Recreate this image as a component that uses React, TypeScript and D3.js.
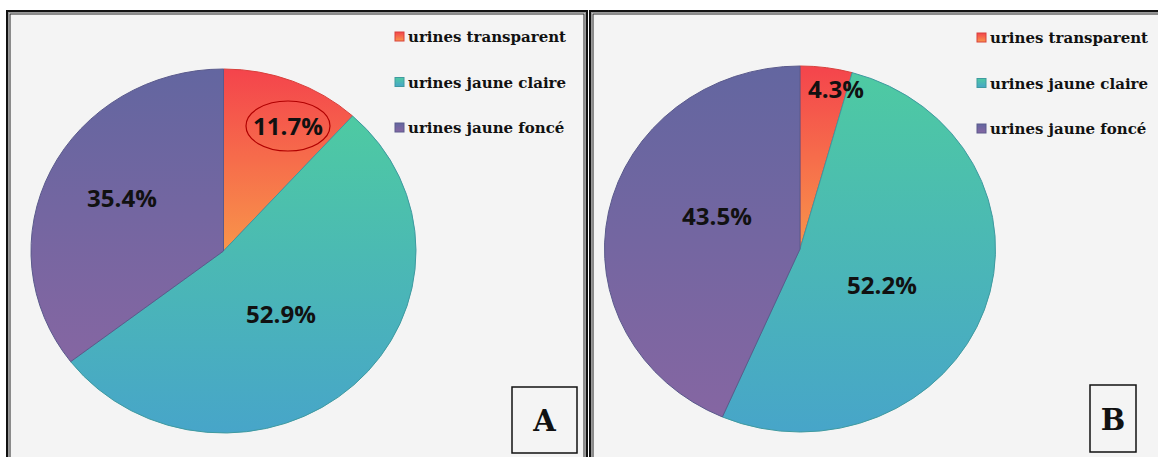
import React from "react";
import * as d3 from "d3";

const categories = ["urines transparent", "urines jaune claire", "urines jaune foncé"];
const valuesA = [11.7, 52.9, 35.4];
const valuesB = [4.3, 52.2, 43.5];
const panelLetters = ["A", "B"];

// gradient stops (top, bottom) per category
const sliceColors = [
  ["#f4444c", "#f8954a"],
  ["#4ecaa2", "#47a5c9"],
  ["#6366a0", "#8566a2"],
];
const sliceStrokes = ["#d8403c", "#3f9aa0", "#5a5a8c"];

type PanelCfg = {
  values: number[];
  letter: string;
  cx: number;
  cy: number;
  rx: number;
  ry: number;
  labels: [number, number][];
  legendX: number;
  legendY: number;
  box: [number, number, number, number];
  circled?: number;
};

const panels: PanelCfg[] = [
  {
    values: valuesA,
    letter: panelLetters[0],
    cx: 223.5,
    cy: 251,
    rx: 192.5,
    ry: 182,
    labels: [[288, 126], [281, 314], [122, 198]],
    legendX: 395,
    legendY: 42,
    box: [512, 387, 65, 66],
    circled: 0,
  },
  {
    values: valuesB,
    letter: panelLetters[1],
    cx: 800,
    cy: 249,
    rx: 195.5,
    ry: 183,
    labels: [[836, 89], [882, 285], [717, 216]],
    legendX: 977,
    legendY: 43,
    box: [1090, 385, 46, 67],
  },
];

function Panel({ p, idx }: { p: PanelCfg; idx: number }) {
  const pie = d3.pie<number>().sort(null).value((d) => d)(p.values);
  const arc = d3.arc<d3.PieArcDatum<number>>().innerRadius(0).outerRadius(p.ry);
  const sx = p.rx / p.ry;
  return (
    <g>
      <defs>
        {sliceColors.map((c, i) => (
          <linearGradient key={i} id={`g${idx}-${i}`} x1="0" y1="0" x2="0" y2="1">
            <stop offset="0" stopColor={c[0]} />
            <stop offset="1" stopColor={c[1]} />
          </linearGradient>
        ))}
      </defs>
      <g transform={`translate(${p.cx},${p.cy}) scale(${sx},1)`}>
        {pie.map((d, i) => (
          <path
            key={i}
            d={arc(d) as string}
            fill={`url(#g${idx}-${i})`}
            stroke={sliceStrokes[i]}
            strokeWidth={1}
            vectorEffect="non-scaling-stroke"
          />
        ))}
      </g>
      {pie.map((d, i) => (
        <g key={i}>
          {p.circled === i && (
            <ellipse
              cx={p.labels[i][0]}
              cy={p.labels[i][1]}
              rx={42}
              ry={25}
              fill="none"
              stroke="#b00000"
              strokeWidth={1.2}
            />
          )}
          <text
            transform={`translate(${p.labels[i][0]},${p.labels[i][1]}) scale(1.07,1)`}
            textAnchor="middle"
            dominantBaseline="central"
            fontFamily="'Open Sans', sans-serif"
            fontWeight={700}
            fontSize={22.5}
            fill="#111"
          >
            {d.data.toFixed(1)}%
          </text>
        </g>
      ))}
      {categories.map((c, i) => (
        <g key={c} transform={`translate(${p.legendX},${p.legendY + i * 45.5})`}>
          <rect x={0} y={-10} width={9} height={9} fill={`url(#g${idx}-${i})`} stroke={sliceStrokes[i]} strokeWidth={1} />
          <text
            x={13}
            y={0}
            fontFamily="'DejaVu Serif', serif"
            fontWeight={700}
            fontSize={15}
            fill="#111"
          >
            {c}
          </text>
        </g>
      ))}
      <rect x={p.box[0]} y={p.box[1]} width={p.box[2]} height={p.box[3]} fill="#f4f4f4" stroke="#111" strokeWidth={1.5} />
      <text
        x={p.box[0] + p.box[2] / 2}
        y={p.box[1] + p.box[3] / 2 + 11}
        textAnchor="middle"
        fontFamily="'DejaVu Serif', serif"
        fontWeight={700}
        fontSize={29}
        fill="#111"
      >
        {p.letter}
      </text>
    </g>
  );
}

function Frame({ x0, x1 }: { x0: number; x1: number }) {
  return (
    <g>
      <rect x={x0} y={11} width={x1 - x0} height={470} fill="#f4f4f4" stroke="#111" strokeWidth={2} />
      <rect x={x0 + 1.5} y={12.5} width={x1 - x0 - 3} height={470} fill="none" stroke="#999" strokeWidth={1} />
      <rect x={x0 + 3} y={14} width={x1 - x0 - 6} height={470} fill="none" stroke="#222" strokeWidth={1} />
    </g>
  );
}

export default function App() {
  return (
    <svg
      width={1158}
      height={457}
      style={{ position: "absolute", left: 0, top: 0, background: "#ffffff" }}
    >
      <Frame x0={7} x1={587} />
      <Frame x0={590} x1={1200} />
      {panels.map((p, i) => (
        <Panel key={i} p={p} idx={i} />
      ))}
    </svg>
  );
}
